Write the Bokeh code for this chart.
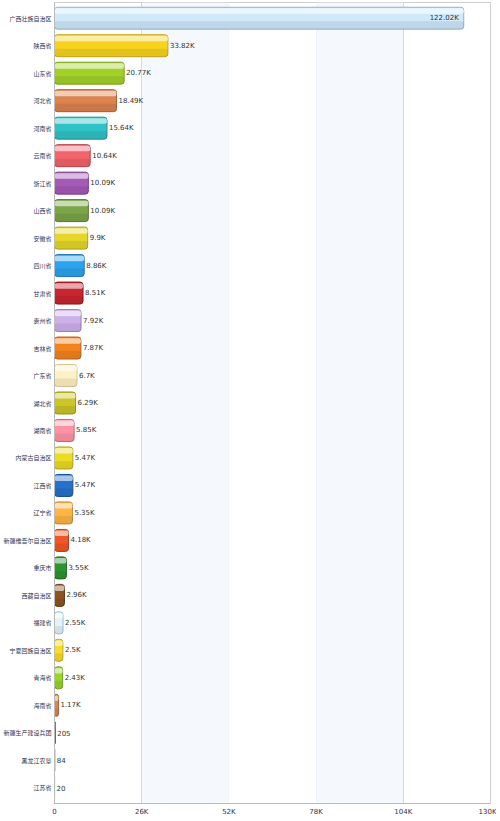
from bokeh.plotting import figure
from bokeh.models import ColumnDataSource, BoxAnnotation, CDSView, IndexFilter, Range1d, FixedTicker
from bokeh.core.properties import value
from bokeh.transform import dodge
from bokeh.embed import file_html
from bokeh.resources import INLINE

provinces = ["广西壮族自治区", "陕西省", "山东省", "河北省", "河南省", "云南省", "浙江省", "山西省",
             "安徽省", "四川省", "甘肃省", "贵州省", "吉林省", "广东省", "湖北省", "湖南省",
             "内蒙古自治区", "江西省", "辽宁省", "新疆维吾尔自治区", "重庆市", "西藏自治区", "福建省",
             "宁夏回族自治区", "青海省", "海南省", "新疆生产建设兵团", "黑龙江农垦", "江苏省"]
counts = [122020, 33820, 20770, 18490, 15640, 10640, 10090, 10090, 9900, 8860, 8510, 7920, 7870,
          6700, 6290, 5850, 5470, 5470, 5350, 4180, 3550, 2960, 2550, 2500, 2430, 1170, 205, 84, 20]
count_labels = ["122.02K", "33.82K", "20.77K", "18.49K", "15.64K", "10.64K", "10.09K", "10.09K",
                "9.9K", "8.86K", "8.51K", "7.92K", "7.87K", "6.7K", "6.29K", "5.85K", "5.47K",
                "5.47K", "5.35K", "4.18K", "3.55K", "2.96K", "2.55K", "2.5K", "2.43K", "1.17K",
                "205", "84", "20"]
fill_colors = ["#cfe9fb", "#f7d31e", "#a2d12a", "#dc8350", "#2fc3c6", "#f2636a", "#a65ab8", "#7aa548",
               "#e4d72a", "#2ba3f0", "#c7252f", "#cdb0ea", "#f3831f", "#fff1c4", "#cbc529", "#ff93a6",
               "#ebdb22", "#2472c9", "#ffb443", "#f25525", "#2c942e", "#8c5423", "#e3f2fb", "#f9dc25",
               "#98d526", "#e3844a", "#3c5a4c", "#c48484", "#8a6a8a"]
line_colors = ["#8fb4cc", "#c9a515", "#7da01c", "#a85f34", "#1f8f92", "#b8424a", "#7a3d8a", "#557a30",
               "#aea21d", "#1f76b3", "#8e1820", "#9c82b8", "#b9601a", "#d8c48c", "#98921c", "#cc6878",
               "#b2a618", "#18508f", "#c78530", "#b43c18", "#1d6a1f", "#5f3815", "#9fbccd", "#c2a918",
               "#6fa01a", "#a86034", "#28402f", "#906060", "#604860"]
x_ticks = [0, 26000, 52000, 78000, 104000, 130000]
x_tick_labels = ["0", "26K", "52K", "78K", "104K", "130K"]

factors = list(reversed(provinces))

src = ColumnDataSource(dict(cat=provinces, val=counts, lab=count_labels,
                            fill=fill_colors, line=line_colors))

p = figure(width=496, height=818, y_range=factors, x_range=Range1d(0, 130000),
           output_backend="svg", toolbar_location=None,
           min_border_left=40, min_border_right=6, min_border_top=2, min_border_bottom=0)

p.background_fill_color = "white"
p.border_fill_color = "white"
p.outline_line_color = "#cfcfcf"
p.outline_line_width = 1

# alternating bands
for i in range(1, len(x_ticks) - 1, 2):
    p.add_layout(BoxAnnotation(left=x_ticks[i], right=x_ticks[i + 1], fill_color="#f5f8fd",
                               fill_alpha=1, line_alpha=0, level="underlay"))

# bars
p.hbar(y="cat", left=0, right="val", height=0.8, source=src, fill_color="fill",
       line_color="line", line_width=1, border_radius=3)
# darker lower shade
p.hbar(y=dodge("cat", -0.25, range=p.y_range), left=0, right="val", height=0.28, source=src,
       fill_color="black", fill_alpha=0.08, line_alpha=0, border_radius=2)
# glossy highlight
p.hbar(y=dodge("cat", 0.26, range=p.y_range), left=0, right="val", height=0.2, source=src,
       fill_color="white", fill_alpha=0.6, line_alpha=0, border_radius=2)

# value labels
p.text(x="val", y="cat", text="lab", source=src, view=CDSView(filter=IndexFilter([0])),
       text_align="right", text_baseline="middle", x_offset=-5,
       text_font=value("DejaVu Sans"), text_font_size="7px", text_color="#333333")
p.text(x="val", y="cat", text="lab", source=src,
       view=CDSView(filter=IndexFilter(list(range(1, len(provinces))))),
       text_align="left", text_baseline="middle", x_offset=2,
       text_font=value("DejaVu Sans"), text_font_size="7px", text_color="#333333")

# axes
p.xaxis.ticker = FixedTicker(ticks=x_ticks)
p.xaxis.major_label_overrides = dict(zip(x_ticks, x_tick_labels))
p.xaxis.major_label_text_font = "DejaVu Sans"
p.xaxis.major_label_text_font_size = "7px"
p.xaxis.major_label_text_color = "#333344"
p.xaxis.axis_line_color = "#bbbbbb"
p.xaxis.major_tick_line_color = None
p.xaxis.minor_tick_line_color = None
p.xaxis.major_tick_out = 0
p.xaxis.major_tick_in = 0
p.xaxis.minor_tick_out = 0
p.xaxis.major_label_standoff = 4

p.yaxis.major_label_text_font = "Noto Sans CJK SC"
p.yaxis.major_label_text_font_size = "6px"
p.yaxis.major_label_text_color = "#2b3553"
p.yaxis.axis_line_color = "#bbbbbb"
p.yaxis.major_tick_line_color = None
p.yaxis.minor_tick_line_color = None
p.yaxis.major_tick_out = 0
p.yaxis.major_tick_in = 0
p.yaxis.minor_tick_out = 0
p.yaxis.major_label_standoff = 3

p.xgrid.ticker = FixedTicker(ticks=x_ticks)
p.xgrid.grid_line_color = "#cccccc"
p.ygrid.grid_line_color = None
p.y_range.range_padding = 0.005

open("out.html", "w").write(file_html(p, INLINE))
